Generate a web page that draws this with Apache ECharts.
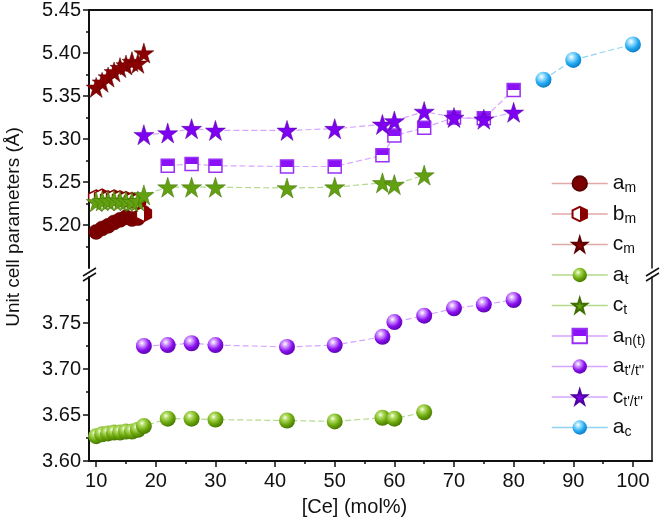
<!DOCTYPE html>
<html>
<head>
<meta charset="utf-8">
<script src="https://cdn.jsdelivr.net/npm/echarts@6/dist/echarts.min.js"></script>
<style>
html, body { margin: 0; padding: 0; background: #fff; }
#main { width: 661px; height: 522px; }
</style>
</head>
<body>
<div id="main"></div>
<script>
// [Ce] mol% positions
var xMono = [10, 11, 12, 13, 14, 15, 16, 17, 18];
var xTet = [10, 11, 12, 13, 14, 15, 16, 17, 18, 22, 26, 30, 42, 50, 58, 60, 65];
var xNt = [22, 26, 30, 42, 50, 58, 60, 65, 70, 75, 80];
var xTp = [18, 22, 26, 30, 42, 50, 58, 60, 65, 70, 75, 80];
var xCub = [85, 90, 100];

// lattice parameters (Å)
var amVals = [5.192, 5.196, 5.199, 5.203, 5.206, 5.209, 5.207, 5.208, 5.214];
var bmVals = [5.232, 5.233, 5.231, 5.232, 5.231, 5.230, 5.229, 5.228, 5.213];
var cmVals = [5.360, 5.366, 5.372, 5.378, 5.383, 5.386, 5.390, 5.388, 5.400];
var atVals = [3.627, 3.629, 3.630, 3.631, 3.631, 3.632, 3.632, 3.634, 3.638, 3.646, 3.646, 3.645, 3.644, 3.643, 3.647, 3.646, 3.653];
var ctVals = [5.227, 5.228, 5.228, 5.229, 5.228, 5.228, 5.227, 5.228, 5.235, 5.244, 5.244, 5.244, 5.243, 5.244, 5.249, 5.247, 5.258];
var anVals = [5.269, 5.271, 5.269, 5.268, 5.268, 5.281, 5.304, 5.313, 5.325, 5.324, 5.357];
var atpVals = [3.725, 3.726, 3.728, 3.726, 3.724, 3.726, 3.735, 3.751, 3.758, 3.766, 3.770, 3.775];
var ctpVals = [5.305, 5.307, 5.312, 5.310, 5.310, 5.312, 5.317, 5.321, 5.332, 5.325, 5.323, 5.331];
var acVals = [5.369, 5.392, 5.410];

// ticks
var xTicks = [10, 20, 30, 40, 50, 60, 70, 80, 90, 100];
var xMinor = [15, 25, 35, 45, 55, 65, 75, 85, 95];
var yTopTicks = [5.20, 5.25, 5.30, 5.35, 5.40, 5.45];
var yTopMinor = [5.175, 5.225, 5.275, 5.325, 5.375, 5.425];
var yBotTicks = [3.60, 3.65, 3.70, 3.75];
var yBotMinor = [3.625, 3.675, 3.725, 3.775];

var chart = echarts.init(document.getElementById('main'));
var FONT = 'Liberation Sans, Arial, sans-serif';
var STAR = 'path://M50,0 L61,35 L98,35 L68,57 L79,91 L50,70 L21,91 L32,57 L2,35 L39,35 Z';
var HEX = 'path://M50,0 L93,25 L93,75 L50,100 L7,75 L7,25 Z';

function pts(xs, ys) {
	return xs.map(function(x, i) { return [x, ys[i]]; });
}
function sphere(light, base, dark) {
	return {
		type: 'radial', x: 0.38, y: 0.32, r: 0.75,
		colorStops: [
			{ offset: 0, color: '#ffffff' },
			{ offset: 0.2, color: light },
			{ offset: 0.6, color: base },
			{ offset: 1, color: dark }
		]
	};
}
function half(dir, a, b) {
	// hard split fill
	return {
		type: 'linear', x: 0, y: 0, x2: dir == 'h' ? 1 : 0, y2: dir == 'h' ? 0 : 1,
		colorStops: [
			{ offset: 0, color: a }, { offset: 0.5, color: a },
			{ offset: 0.5, color: b }, { offset: 1, color: b }
		]
	};
}
function line(name, data, grid, symbol, size, itemStyle, lineColor) {
	return {
		name: name,
		type: 'line',
		xAxisIndex: grid == 0 ? 0 : 1,
		yAxisIndex: grid == 0 ? 0 : 3,
		data: data,
		symbol: symbol,
		symbolSize: size,
		itemStyle: itemStyle,
		lineStyle: { color: lineColor, width: 1.2, type: [6, 3] },
		animation: false
	};
}

var redLine = '#e2a9a9', greenLine = '#b3d98c', purpleLine = '#d6a6ff', blueLine = '#8fd3f6';

var hiddenAxis = { axisLine: { show: false }, axisTick: { show: false }, axisLabel: { show: false }, splitLine: { show: false } };
function axis(base, extra) {
	return Object.assign({}, hiddenAxis, base, extra);
}

var option = {
	backgroundColor: '#fff',
	textStyle: { fontFamily: FONT },
	grid: [
		{ left: 89, right: 9, top: 9, height: 259 },
		{ left: 89, right: 9, top: 277, height: 184 }
	],
	xAxis: [
		axis({ type: 'value', gridIndex: 0, position: 'top', min: 8.8, max: 103.2 }, {
			axisLine: { show: true, onZero: false, lineStyle: { color: '#111', width: 2 } }
		}),
		axis({ type: 'value', gridIndex: 1, position: 'bottom', min: 8.8, max: 103.2 }, {
			axisLine: { show: true, onZero: false, lineStyle: { color: '#111', width: 2 } },
			axisTick: { show: true, length: 6, customValues: xTicks, lineStyle: { color: '#111', width: 1.5 } },
			axisLabel: { show: true, customValues: xTicks, fontSize: 20, color: '#111', margin: 10, fontFamily: FONT },
			name: '[Ce] (mol%)',
			nameLocation: 'middle',
			nameGap: 36,
			nameTextStyle: { fontSize: 20, color: '#111', fontFamily: FONT, padding: [0, 32, 0, 0] }
		}),
		axis({ type: 'value', gridIndex: 1, position: 'bottom', min: 8.8, max: 103.2 }, {
			axisTick: { show: true, length: 3, customValues: xMinor, lineStyle: { color: '#111', width: 1.5 } }
		})
	],
	yAxis: [
		axis({ type: 'value', gridIndex: 0, position: 'left', min: 5.15, max: 5.45 }, {
			axisLine: { show: true, onZero: false, lineStyle: { color: '#111', width: 2 } },
			axisTick: { show: true, length: 6, customValues: yTopTicks, lineStyle: { color: '#111', width: 1.5 } },
			axisLabel: {
				show: true, customValues: yTopTicks, fontSize: 20, color: '#111', margin: 8, fontFamily: FONT,
				formatter: function(v) { return v.toFixed(2); }
			}
		}),
		axis({ type: 'value', gridIndex: 0, position: 'left', min: 5.15, max: 5.45 }, {
			axisTick: { show: true, length: 3, customValues: yTopMinor, lineStyle: { color: '#111', width: 1.5 } }
		}),
		axis({ type: 'value', gridIndex: 0, position: 'right', min: 5.15, max: 5.45 }, {
			axisLine: { show: true, onZero: false, lineStyle: { color: '#111', width: 1.5 } }
		}),
		axis({ type: 'value', gridIndex: 1, position: 'left', min: 3.60, max: 3.80 }, {
			axisLine: { show: true, onZero: false, lineStyle: { color: '#111', width: 2 } },
			axisTick: { show: true, length: 6, customValues: yBotTicks, lineStyle: { color: '#111', width: 1.5 } },
			axisLabel: {
				show: true, customValues: yBotTicks, fontSize: 20, color: '#111', margin: 8, fontFamily: FONT,
				formatter: function(v) { return v.toFixed(2); }
			}
		}),
		axis({ type: 'value', gridIndex: 1, position: 'left', min: 3.60, max: 3.80 }, {
			axisTick: { show: true, length: 3, customValues: yBotMinor, lineStyle: { color: '#111', width: 1.5 } }
		}),
		axis({ type: 'value', gridIndex: 1, position: 'right', min: 3.60, max: 3.80 }, {
			axisLine: { show: true, onZero: false, lineStyle: { color: '#111', width: 1.5 } }
		})
	],
	legend: {
		orient: 'vertical',
		left: 546,
		top: 168,
		itemWidth: 56,
		itemHeight: 18,
		itemGap: 8,
		selectedMode: false,
		lineStyle: { type: 'solid', width: 1.5 },
		data: ['a_m', 'b_m', 'c_m', 'a_t', 'c_t', 'a_n(t)', "a_t'/t''", "c_t'/t''", 'a_c'],
		formatter: function(name) {
			var p = name.split('_');
			return '{b|' + p[0] + '}{s|' + p[1] + '}';
		},
		textStyle: {
			color: '#111',
			fontFamily: FONT,
			rich: {
				b: { fontSize: 21, lineHeight: 22, fontFamily: FONT, color: '#111' },
				s: { fontSize: 14, padding: [10, 0, 0, 0], fontFamily: FONT, color: '#111' }
			}
		}
	},
	graphic: [
		{ type: 'line', shape: { x1: 83, y1: 276, x2: 96, y2: 268 }, style: { stroke: '#111', lineWidth: 1.5 } },
		{ type: 'line', shape: { x1: 83, y1: 281, x2: 96, y2: 273 }, style: { stroke: '#111', lineWidth: 1.5 } },
		{ type: 'line', shape: { x1: 646, y1: 276, x2: 659, y2: 268 }, style: { stroke: '#111', lineWidth: 1.5 } },
		{ type: 'line', shape: { x1: 646, y1: 281, x2: 659, y2: 273 }, style: { stroke: '#111', lineWidth: 1.5 } },
		{
			type: 'text', x: 14, y: 227, rotation: Math.PI / 2,
			style: { text: 'Unit cell parameters (Å)', font: '19px ' + FONT, fill: '#111', align: 'center', verticalAlign: 'middle' }
		}
	],
	series: [
		line('a_m', pts(xMono, amVals), 0, 'circle', 15, { color: '#7d0000', borderColor: '#5a0000', borderWidth: 0.5 }, redLine),
		line('b_m', pts(xMono, bmVals), 0, HEX, 15, { color: half('h', '#ffffff', '#8b0000'), borderColor: '#8b0000', borderWidth: 1.5 }, redLine),
		line('c_m', pts(xMono, cmVals), 0, STAR, 20, { color: '#8b0000', borderColor: '#5a0000', borderWidth: 0.5 }, redLine),
		line('a_t', pts(xTet, atVals), 1, 'circle', 16, { color: sphere('#b6e06a', '#6aa60a', '#3f6e00') }, greenLine),
		line('c_t', pts(xTet, ctVals), 0, STAR, 20, { color: '#62a012', borderColor: '#3f6e00', borderWidth: 0.5 }, greenLine),
		line('a_n(t)', pts(xNt, anVals), 0, 'rect', 13, { color: half('v', '#8a10f5', '#ffffff'), borderColor: '#9a30f5', borderWidth: 1.5 }, purpleLine),
		line("a_t'/t''", pts(xTp, atpVals), 1, 'circle', 16, { color: sphere('#d9a8ff', '#8a10f0', '#5000a0') }, purpleLine),
		line("c_t'/t''", pts(xTp, ctpVals), 0, STAR, 20, { color: '#7d00f0', borderColor: '#5000a0', borderWidth: 0.5 }, purpleLine),
		line('a_c', pts(xCub, acVals), 0, 'circle', 16, { color: sphere('#a8e4ff', '#20a8f0', '#0a70b8') }, blueLine)
	]
};

chart.setOption(option);
</script>
</body>
</html>
